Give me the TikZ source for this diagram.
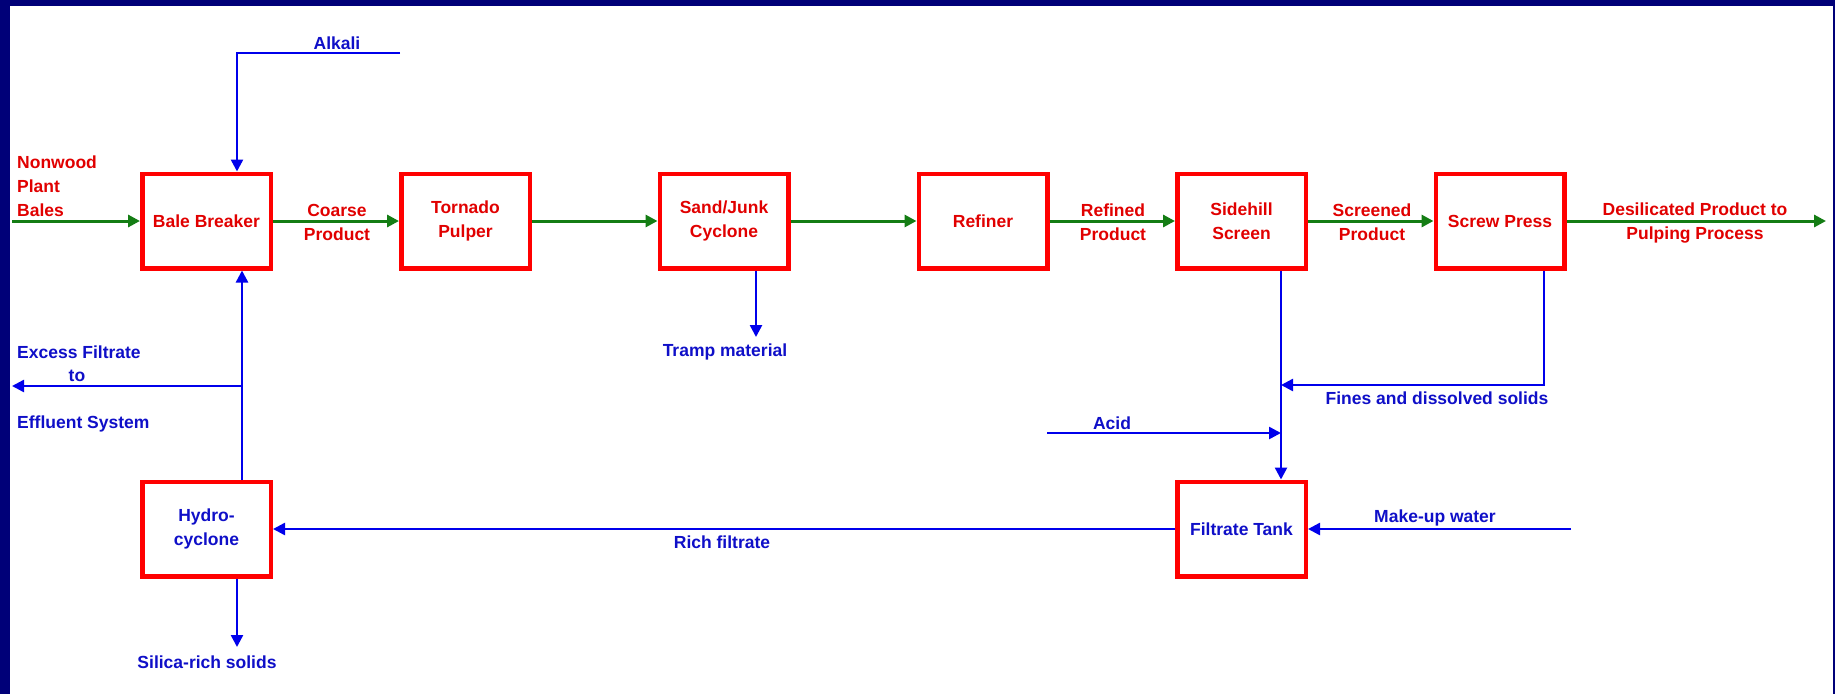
\documentclass[tikz,border=0pt]{standalone}
\usepackage{fontspec}
\setmainfont{Liberation Sans}
\usetikzlibrary{arrows.meta}
\definecolor{navyframe}{RGB}{0,0,120}
\definecolor{boxred}{RGB}{255,0,0}
\definecolor{txtred}{RGB}{225,0,0}
\definecolor{txtblue}{RGB}{15,15,200}
\definecolor{lineblue}{RGB}{0,0,235}
\definecolor{linegreen}{RGB}{20,125,20}
\begin{document}
\begin{tikzpicture}[x=1pt,y=-1pt,
 lbl/.style={font=\fontsize{17.5}{24}\selectfont\bfseries, inner sep=0pt, align=center},
 redlbl/.style={lbl,text=txtred},
 bluelbl/.style={lbl,text=txtblue},
 proc/.style={draw=boxred,line width=4.5pt,fill=white,minimum width=128.5pt,minimum height=94.5pt,inner sep=0pt,align=center,font=\fontsize{17.5}{24}\selectfont\bfseries},
 redproc/.style={proc,text=txtred},
 blueproc/.style={proc,text=txtblue},
 gflow/.style={draw=linegreen,line width=3pt,-{Triangle[length=12pt,width=12pt]}},
 bflow/.style={draw=lineblue,line width=2.5pt,-{Triangle[length=12pt,width=12pt]}},
]
\useasboundingbox (0,0) rectangle (1835,694);
\fill[navyframe] (0,0) rectangle (1835,694);
\fill[white] (10,6) rectangle (1833,694);

% process boxes
\node[redproc] (BB) at (206.5,221) {Bale Breaker};
\node[redproc] (TP) at (465.5,221) {Tornado\\Pulper};
\node[redproc] (SJ) at (724,221) {Sand/Junk\\Cyclone};
\node[redproc] (RF) at (983,221) {Refiner};
\node[redproc] (SS) at (1241.5,221) {Sidehill\\Screen};
\node[redproc] (SP) at (1500,221) {Screw Press};
\node[blueproc] (FT) at (1241.5,529) {Filtrate Tank};
\node[blueproc] (HC) at (206.5,529) {Hydro-\\cyclone};

% coordinates
\coordinate (inp) at (12,221);
\coordinate (outp) at (1826,221);
\coordinate (alk1) at (400,53);
\coordinate (alk2) at (237,53);
\coordinate (rv) at (242,0);
\coordinate (exc) at (12,386);
\coordinate (sil) at (237,647);
\coordinate (tramp) at (756,337);
\coordinate (sv) at (1281,0);
\coordinate (fines) at (1544,385);
\coordinate (acid) at (1047,433);
\coordinate (mkw) at (1571,529);

% green main flow
\draw[gflow] (inp) -- (BB.west);
\draw[gflow] (BB) -- (TP);
\draw[gflow] (TP) -- (SJ);
\draw[gflow] (SJ) -- (RF);
\draw[gflow] (RF) -- (SS);
\draw[gflow] (SS) -- (SP);
\draw[gflow] (SP.east) -- (outp);

% blue flows
\draw[bflow] (alk1) -- (alk2) -- (alk2 |- BB.north);
\draw[bflow] (rv |- HC.north) -- (rv |- BB.south);
\draw[bflow] (exc -| rv) -- (exc);
\draw[bflow] (sil |- HC.south) -- (sil);
\draw[bflow] (tramp |- SJ.south) -- (tramp);
\draw[bflow] (sv |- SS.south) -- (sv |- FT.north);
\draw[bflow] (fines |- SP.south) -- (fines) -- (fines -| sv);
\draw[bflow] (acid) -- (acid -| sv);
\draw[bflow] (mkw) -- (FT.east);
\draw[bflow] (FT.west) -- (HC.east);

% red labels
\node[redlbl,align=left,anchor=west] (nonwood) at (17,186.5) {Nonwood\\Plant\\Bales};
\node[redlbl] (coarse) at (337,222) {Coarse\\Product};
\node[redlbl] (refined) at (1113,222) {Refined\\Product};
\node[redlbl] (screened) at (1372,222) {Screened\\Product};
\node[redlbl] (desil) at (1695,223) {Desilicated Product to\\Pulping Process};

% blue labels
\node[bluelbl] (alkali) at (337,43) {Alkali};
\node[bluelbl] (trampl) at (725,352) {Tramp material};
\node[bluelbl] (finesl) at (1437,398) {Fines and dissolved solids};
\node[bluelbl] (acidl) at (1112,423) {Acid};
\node[bluelbl] (mkwl) at (1435,518) {Make-up water};
\node[bluelbl] (richl) at (722,542) {Rich filtrate};
\node[bluelbl] (silica) at (207,662) {Silica-rich solids};
\node[bluelbl,anchor=west] (excess) at (17,352) {Excess Filtrate};
\node[bluelbl] (to) at (77,376) {to};
\node[bluelbl,anchor=west] (effl) at (17,424) {Effluent System};
\end{tikzpicture}
\end{document}
